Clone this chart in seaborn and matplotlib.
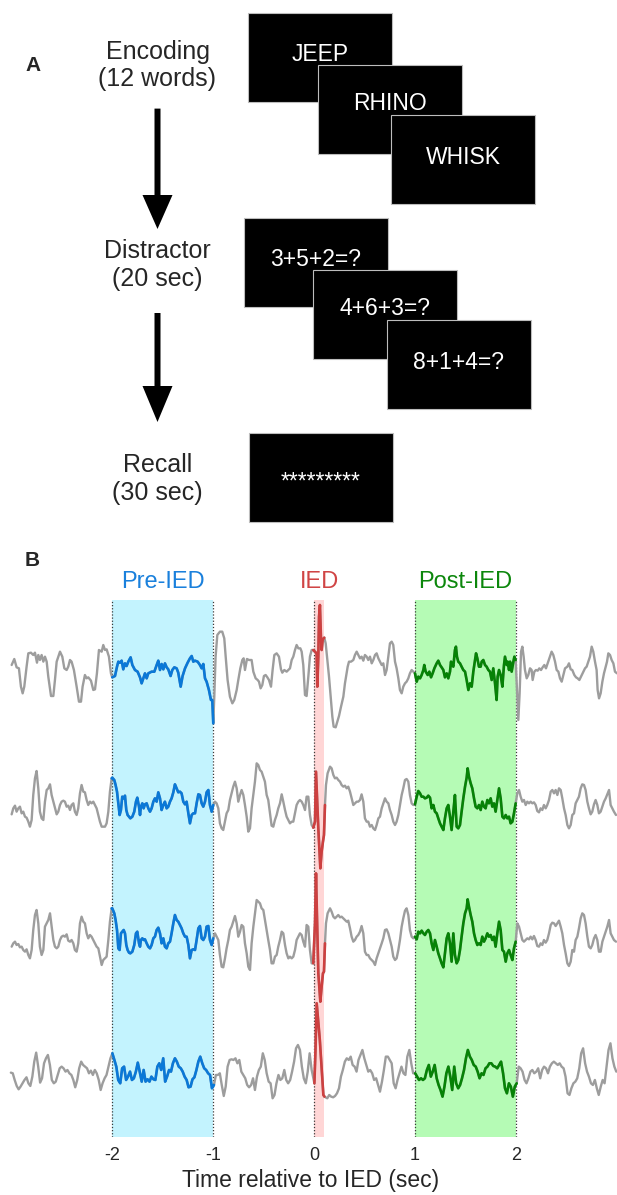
import numpy as np
import pandas as pd
import matplotlib
matplotlib.use("Agg")
import matplotlib.pyplot as plt
from matplotlib.patches import Rectangle, FancyArrow
import seaborn as sns

sns.set_style("white")
plt.rcParams["font.family"] = ["Liberation Sans", "DejaVu Sans"]

# ------------------------------------------------------------------ data
# Panel A: task schematic
STAGE_NAMES = ["Encoding", "Distractor", "Recall"]
STAGE_DURATIONS = ["(12 words)", "(20 sec)", "(30 sec)"]
ENCODING_WORDS = ["JEEP", "RHINO", "WHISK"]
DISTRACTOR_PROBLEMS = ["3+5+2=?", "4+6+3=?", "8+1+4=?"]
RECALL_PROMPT = ["*********"]

# Panel B: windows (seconds relative to IED)
WINDOW_NAMES = ["Pre-IED", "IED", "Post-IED"]
WINDOW_BOUNDS = [(-2.0, -1.0), (0.0, 0.1), (1.0, 2.0)]
TICK_VALUES = [-2, -1, 0, 1, 2]
TICK_LABELS = ["-2", "-1", "0", "1", "2"]
X_LABEL = "Time relative to IED (sec)"

# Example traces: time (ms relative to IED) and amplitude (a.u.)
T1_MS = [
    -2996, -2970, -2947, -2924, -2904, -2887, -2871, -2848, -2831, -2805,
    -2782, -2765, -2745, -2732, -2716, -2699, -2682, -2666, -2649, -2633,
    -2606, -2583, -2567, -2550, -2517, -2494, -2474, -2451, -2435, -2418,
    -2402, -2379, -2352, -2329, -2309, -2293, -2270, -2253, -2237, -2210,
    -2187, -2170, -2151, -2131, -2104, -2088, -2071, -2055, -2032, -2012,
    -1999, -1972, -1952, -1939, -1923, -1906, -1890, -1873, -1857, -1840,
    -1817, -1800, -1774, -1748, -1724, -1708, -1691, -1675, -1658, -1642,
    -1609, -1582, -1559, -1543, -1526, -1510, -1493, -1477, -1460, -1444,
    -1421, -1404, -1384, -1361, -1345, -1321, -1302, -1278, -1252, -1229,
    -1212, -1196, -1179, -1153, -1130, -1113, -1097, -1080, -1064, -1041,
    -1021, -1008, -998,
    -988, -975, -958, -932, -909, -889, -875, -856, -833, -809,
    -790, -766, -750, -730, -710, -697, -684, -664, -644, -618,
    -601, -578, -558, -545, -529, -512, -496, -479, -462, -446,
    -426, -410, -393, -370, -347, -327, -314, -294, -271, -254,
    -238, -221, -205, -188, -172, -155, -135, -122, -106, -89,
    -73, -56, -40, -23,
    -7, 10, 26, 33, 43, 50, 59, 69, 76, 86, 96, 102,
    116, 129, 149, 168, 182, 195, 215, 231, 248, 268,
    291, 307, 334, 347, 367, 390, 406, 423, 439, 456,
    472, 489, 505, 522, 538, 555, 572, 588, 605, 621,
    638, 654, 671, 687, 704, 720, 737, 753, 770, 786,
    803, 819, 836, 852, 869, 885, 902, 918, 935, 951,
    968, 984,
    1001, 1018, 1034, 1051, 1067, 1084, 1093, 1107, 1127, 1143,
    1160, 1176, 1193, 1216, 1232, 1249, 1265, 1282, 1298, 1315,
    1331, 1348, 1358, 1371, 1381, 1397, 1407, 1417, 1430, 1447,
    1463, 1480, 1497, 1513, 1530, 1546, 1563, 1579, 1596, 1606,
    1619, 1635, 1652, 1662, 1678, 1695, 1711, 1728, 1744, 1761,
    1777, 1794, 1810, 1820, 1834, 1850, 1867, 1883, 1893, 1910,
    1919, 1933, 1943, 1959, 1976, 1986, 1999,
    2012, 2025, 2038, 2052, 2065, 2078, 2091, 2108, 2124, 2141,
    2157, 2167, 2184, 2200, 2217, 2233, 2250, 2266, 2283, 2299,
    2316, 2339, 2355, 2372, 2389, 2405, 2422, 2438, 2455, 2471,
    2488, 2511, 2527, 2544, 2560, 2580, 2597, 2613, 2630, 2646,
    2663, 2686, 2702, 2719, 2735, 2752, 2768, 2785, 2801, 2811,
    2825, 2841, 2858, 2874, 2891, 2904, 2917, 2934, 2950, 2967,
    2983, 3003,
]
T1_AMP = [
    24, 42, 17, 14, -41, -61, -41, 19, 59, 61,
    54, 61, 31, 54, 39, 54, 34, 49, 34, -11,
    -69, -69, -21, 34, 64, 49, 14, 9, 19, 39,
    34, 9, -41, -86, -86, -41, -6, -16, -13, -23,
    -51, -49, -1, 69, 64, 84, 69, 71, 49, -1,
    -13, -9, 19, 34, 31, 37, 11, 29, 21, 34,
    47, 24, 9, 4, -13, -31, -16, -1, -16, -1,
    4, 4, 24, 37, 9, 27, 11, 29, 17, 11,
    -9, 9, 17, 14, 1, -41, -9, 14, 31, 44,
    51, 34, 37, 34, 24, 14, 27, -16, -26, -51,
    -81, -81, -151,
    -71, 49, 114, 124, 124, 104, 49, -21, -71, -91,
    -81, -51, -21, 14, 39, 44, 9, 42, 39, 39,
    4, -16, -21, -26, -46, -36, -9, -6, -13, -21,
    -41, 9, 54, 59, 49, 11, 1, 9, 4, 9,
    14, 39, 49, 69, 84, 74, 74, 64, 24, -66,
    -69, -11, 49, 69,
    69, 64, 59, -41, 49, 169, 204, 109, 69, 99, 104, 106,
    89, 49, -11, -81, -131, -161, -163, -146, -129, -101,
    -71, -31, 19, 34, 34, 39, 54, 64, 54, 44,
    49, 37, 54, 49, 39, 49, 29, 39, 54, 59,
    44, 34, 24, 29, -6, 9, 49, 89, 94, 84,
    34, 14, -16, -51, -61, -41, -31, -26, -16, -1,
    9, 4,
    -1, -26, -11, -16, -6, 9, 24, 4, -6, 4,
    -13, -1, 14, 29, 37, 24, 17, 9, -13, -1,
    -16, 4, 34, 24, 19, 69, 79, 49, 34, 29,
    19, 9, 4, -21, -51, -31, -41, 4, 39, 59,
    44, 19, 19, 34, 39, 24, 19, 9, 4, -21,
    14, -31, -81, -11, 9, -6, -41, 24, 49, 24,
    34, 9, 34, 4, 34, 49, 39,
    -51, -141, -61, 64, 79, 49, 9, -16, -6, 14,
    9, -21, 4, 9, 7, 14, 9, 17, 24, 14,
    29, 49, 64, 54, 34, 9, 4, -16, -26, -6,
    14, 19, 29, 11, 9, -6, -13, -16, -21, -11,
    -1, 14, 19, 34, 49, 79, 64, 34, 9, -51,
    -76, -61, -26, -1, 19, 34, 59, 54, 39, 29,
    4, -1,
]

T23_MS = [
    -2996, -2980, -2963, -2947, -2930, -2914, -2897, -2881, -2864, -2848,
    -2831, -2815, -2798, -2782, -2765, -2749, -2732, -2716, -2699, -2682,
    -2666, -2649, -2633, -2616, -2600, -2583, -2567, -2550, -2534, -2517,
    -2501, -2484, -2468, -2451, -2435, -2418, -2402, -2385, -2369, -2352,
    -2336, -2319, -2303, -2286, -2270, -2253, -2237, -2220, -2204, -2187,
    -2170, -2154, -2137, -2121, -2104, -2088, -2071, -2055, -2038, -2022,
    -2005,
    -1999, -1979, -1966, -1952, -1939, -1926, -1913, -1900, -1886, -1873,
    -1860, -1847, -1833, -1820, -1800, -1781, -1764, -1751, -1734, -1724,
    -1715, -1701, -1688, -1675, -1658, -1642, -1625, -1609, -1592, -1576,
    -1559, -1543, -1526, -1510, -1493, -1477, -1460, -1444, -1427, -1411,
    -1394, -1378, -1361, -1345, -1328, -1312, -1295, -1278, -1262, -1245,
    -1229, -1212, -1196, -1179, -1163, -1146, -1130, -1113, -1097, -1080,
    -1064, -1047, -1031, -1014, -998,
    -981, -965, -948, -932, -915, -899, -882, -866, -849, -833,
    -816, -800, -783, -766, -750, -733, -717, -700, -684, -667,
    -651, -634, -618, -601, -585, -568, -552, -535, -519, -502,
    -486, -469, -453, -436, -420, -403, -387, -370, -354, -337,
    -320, -304, -287, -271, -254, -238, -221, -205, -188, -172,
    -155, -139, -122, -106, -89, -73, -56, -40, -23,
    -7, 10, 20, 43, 63, 76, 89, 99,
    109, 119, 135, 159, 175, 192, 208, 225, 241, 258,
    274, 291, 307, 324, 340, 357, 373, 390, 406, 423,
    439, 456, 472, 489, 505, 522, 538, 555, 572, 588,
    605, 621, 638, 654, 671, 687, 704, 720, 737, 753,
    770, 786, 803, 819, 836, 852, 869, 885, 902, 918,
    935, 951, 968, 984, 1001,
    1018, 1034, 1051, 1067, 1084, 1100, 1117, 1133, 1150, 1166,
    1183, 1199, 1216, 1232, 1249, 1265, 1282, 1298, 1315, 1331,
    1348, 1364, 1381, 1397, 1414, 1430, 1447, 1463, 1480, 1497,
    1513, 1523, 1536, 1553, 1569, 1586, 1602, 1619, 1635, 1652,
    1668, 1685, 1701, 1718, 1734, 1751, 1767, 1784, 1800, 1817,
    1834, 1850, 1867, 1883, 1900, 1916, 1933, 1949, 1966, 1982,
    1999,
    2015, 2032, 2048, 2065, 2081, 2098, 2114, 2131, 2147, 2164,
    2180, 2197, 2213, 2230, 2246, 2263, 2279, 2296, 2312, 2329,
    2346, 2362, 2379, 2395, 2412, 2428, 2445, 2461, 2478, 2494,
    2511, 2527, 2544, 2560, 2577, 2593, 2610, 2626, 2643, 2659,
    2676, 2692, 2709, 2725, 2742, 2758, 2775, 2791, 2808, 2824,
    2841, 2858, 2874, 2891, 2907, 2924, 2940, 2957, 2973, 2993,
]
T2_AMP = [
    -19, -1, 7, -11, -1, 4, -16, -11, -26, -29,
    -41, -56, -36, 39, 89, 111, 59, -11, -31, -36,
    19, 54, 59, 71, 39, 19, -1, -19, -11, 9,
    19, 22, 19, 4, 7, -6, 9, 14, -11, -21,
    -1, 44, 69, 49, 47, 24, 9, 19, 14, 19,
    9, -1, -21, -41, -56, -56, -56, -46, -11, 49,
    89,
    91, 84, 69, 49, 14, -21, -6, 34, 29, 37,
    -6, -21, -26, -31, -26, -11, 19, 31, 4, -21,
    4, 14, -1, 11, 14, -1, -11, -1, 19, 29,
    19, 47, 29, -6, 9, 19, -1, 4, 19, 29,
    47, 71, 59, 47, 49, 44, 19, 11, 19, -16,
    -46, -21, -16, -16, 14, 41, 39, 14, 4, 19,
    47, 54, 9, -11, 9,
    19, 14, -1, -46, -61, -66, -41, -16, -6, 24,
    44, 64, 79, 59, 19, 39, 54, 39, 9, -26,
    -71, -61, -1, 39, 79, 134, 129, 114, 109, 94,
    79, 39, 24, -16, -53, -56, -36, -21, -1, 14,
    41, 19, -6, -26, -36, -46, -41, -41, -16, 9,
    19, 24, 19, 9, -6, 34, 34, -21, -51,
    -59, -41, 109, -61, -181, -131, -101, -81,
    9, 69, 104, 124, 119, 99, 89, 91, 84, 79,
    69, 64, 67, 59, 64, 49, 29, 9, 14, 19,
    19, 24, 41, 19, -31, -41, -41, -56, -51, -61,
    -66, -51, -31, -26, -1, 14, 29, 19, 14, -6,
    -21, -41, -51, -41, -21, 9, 39, 59, 84, 87,
    79, 39, 14, 9, 11,
    34, 51, 44, 34, 34, 29, 31, 37, 31, -1,
    9, -11, -16, -31, -46, -56, -66, -31, -1, 9,
    -26, -66, -11, 39, -56, -61, -51, -11, 29, 64,
    91, 119, 94, 74, 59, 29, 4, -1, 9, -6,
    19, 4, -1, 24, 14, 29, 4, 14, -11, 24,
    59, 29, -26, -31, -21, -31, -26, -46, -41, -16,
    14,
    44, 54, 34, 19, 24, 9, 19, 14, 19, 14,
    17, 9, -9, -13, -1, -6, 9, -1, 9, 24,
    49, 54, 44, 54, 39, 59, 54, 29, -1, -21,
    -51, -61, -51, -21, -16, 14, 24, 34, 59, 71,
    69, 54, 19, -1, -19, -11, 11, 24, 9, -16,
    -11, 4, 19, 29, 41, 54, 9, -1, -11, -21,
]
T3_AMP = [
    -11, -1, 4, -6, -3, -13, -11, -21, -26, -19,
    -36, -46, -21, 39, 84, 99, 59, -11, -36, -21,
    49, 59, 69, 89, 49, 9, -11, -16, -11, 9,
    19, 22, 19, 26, 7, 4, 9, -1, -21, -26,
    -1, 59, 79, 64, 59, 29, 14, 24, 19, 9,
    -1, -11, -16, -41, -66, -51, -46, -41, 9, 64,
    104,
    104, 89, 69, 39, -16, -21, 29, 34, 39, 29,
    -6, -21, -29, -31, -26, -6, 29, 34, -1, -11,
    9, 14, 9, 11, -1, -11, -16, -6, 14, 19,
    39, 46, 29, -1, 14, -11, -16, -1, 4, 29,
    59, 84, 69, 64, 54, 44, 29, 19, 19, -6,
    -46, -21, -19, -21, 9, 44, 51, 14, 9, 19,
    49, 51, 9, -6, 14,
    29, 19, 9, -36, -71, -73, -46, -16, 9, 39,
    49, 64, 81, 59, 19, 34, 54, 49, -1, -31,
    -71, -81, -1, 49, 89, 129, 124, 119, 104, 99,
    69, 39, 9, -21, -61, -61, -41, -36, -11, 9,
    34, 29, -6, -31, -46, -41, -46, -41, -21, 9,
    19, 29, 24, 4, -11, 54, 49, -21, -61,
    -61, 59, 209, -91, -176, -131, -91, -86,
    -1, 59, 89, 104, 94, 79, 74, 79, 84, 77,
    79, 74, 69, 64, 67, 44, 19, 4, 9, 19,
    24, 34, 51, 29, -26, -36, -36, -46, -51, -56,
    -66, -46, -31, -16, -1, 14, 39, 41, 29, 9,
    -11, -41, -51, -46, -21, 9, 49, 74, 97, 104,
    84, 39, 19, 14, 19,
    11, 34, 29, 37, 29, 24, 34, 39, 29, -1,
    -21, 9, -11, -31, -46, -61, -73, -31, 14, 29,
    -1, -56, 29, -36, -61, -51, -21, 19, 59, 89,
    104, 131, 109, 84, 64, 29, 9, -6, -1, -6,
    19, 4, 14, 29, 19, 24, 9, 19, -11, 29,
    64, 39, -21, -26, -56, -31, -21, -36, -51, -16,
    4,
    59, 49, 29, 9, 4, 9, 14, 11, 19, 11,
    21, 9, -9, -11, -1, -6, 9, 1, 9, 29,
    54, 61, 59, 51, 59, 67, 49, 29, -6, -31,
    -61, -69, -56, -21, -26, 9, 19, 44, 74, 89,
    84, 59, 19, -11, -16, -6, 14, 24, 9, -26,
    -26, 4, 19, 34, 49, 69, 29, 19, 9, 4,
]

T4_MS = [
    -3004, -2985, -2966, -2946, -2927, -2908, -2888, -2869, -2849, -2830,
    -2811, -2791, -2772, -2753, -2733, -2714, -2695, -2675, -2656, -2637,
    -2617, -2598, -2578, -2559, -2540, -2520, -2501, -2482, -2462, -2443,
    -2424, -2404, -2385, -2366, -2346, -2327, -2307, -2288, -2269, -2249,
    -2230, -2211, -2191, -2172, -2153, -2133, -2114, -2095, -2075, -2056,
    -2036, -2017,
    -1998, -1978, -1959, -1940, -1920, -1901, -1882, -1862, -1843, -1823,
    -1804, -1785, -1765, -1746, -1727, -1707, -1688, -1669, -1649, -1630,
    -1611, -1591, -1572, -1552, -1533, -1514, -1494, -1475, -1456, -1436,
    -1417, -1398, -1378, -1359, -1340, -1320, -1301, -1282, -1262, -1243,
    -1223, -1204, -1185, -1165, -1146, -1127, -1107, -1088, -1069, -1049,
    -1030, -1011, -991,
    -972, -952, -933, -914, -894, -875, -856, -836, -817, -798,
    -778, -759, -740, -720, -701, -681, -662, -643, -623, -604,
    -585, -565, -546, -527, -507, -488, -469, -449, -430, -410,
    -391, -372, -352, -333, -314, -294, -275, -256, -236, -217,
    -197, -178, -159, -139, -120, -101, -81, -62, -43, -23,
    4, 15, 27, 58, 93, 104,
    132, 151, 170, 190, 209, 228, 248, 267, 286, 306,
    325, 345, 364, 383, 403, 422, 441, 461, 480, 499,
    519, 538, 557, 577, 596, 616, 635, 654, 674, 693,
    712, 732, 751, 770, 790, 809, 828, 848, 867, 887,
    906, 925, 945, 964, 983,
    1003, 1022, 1041, 1061, 1080, 1099, 1119, 1138, 1158, 1177,
    1196, 1216, 1235, 1254, 1274, 1293, 1312, 1332, 1351, 1370,
    1390, 1409, 1429, 1448, 1467, 1487, 1506, 1525, 1545, 1564,
    1583, 1603, 1622, 1641, 1661, 1680, 1700, 1719, 1738, 1758,
    1777, 1796, 1816, 1835, 1854, 1874, 1893, 1912, 1932, 1951,
    1971, 1990, 2009,
    2029, 2048, 2067, 2087, 2106, 2125, 2145, 2164, 2183, 2203,
    2222, 2242, 2261, 2280, 2300, 2319, 2338, 2358, 2377, 2396,
    2416, 2435, 2454, 2474, 2493, 2513, 2532, 2551, 2571, 2590,
    2609, 2629, 2648, 2667, 2687, 2706, 2725, 2745, 2764, 2784,
    2803, 2822, 2842, 2861, 2880, 2900, 2919, 2938, 2958, 2977,
    2996,
]
T4_AMP = [
    2, 0, -20, -38, -48, -40, -30, -20, -12, -30,
    -38, -10, 35, 62, 20, -28, -15, 30, 45, 55,
    25, -20, -30, -25, -5, 15, 20, 15, 5, 10,
    0, -5, -20, -42, -20, 15, 35, 25, 20, 15,
    0, 8, -5, 10, 0, -20, -50, -30, -15, -5,
    20, 45,
    60, 40, 20, -20, -30, 15, 20, -20, -10, 5,
    -20, -15, 5, 32, 5, -25, 10, -25, -18, -25,
    -10, -18, -20, 20, 30, 10, 45, -25, -10, 10,
    5, 30, 45, 35, 20, 15, 5, -10, -20, -42,
    -40, -18, -12, 10, 35, 50, 30, 15, 10, 0,
    -5, -45, -35,
    -5, -5, 0, -35, -68, -40, 20, 40, 42, 40,
    45, 30, 40, 5, -5, -15, -35, -42, -35, -15,
    -50, -10, 10, 20, 60, 40, 0, -25, -30, -75,
    -65, -30, -5, -20, -15, 10, -20, -30, -20, 5,
    35, 75, 85, 70, 20, -15, -30, 5, 60, 10,
    -30, 70, 210, 100, -65, -70,
    -75, -65, -70, -72, -68, -60, -45, -10, 10, 35,
    45, 40, 50, 25, 20, 5, 40, 55, 70, 45,
    25, 5, 10, 0, -20, -15, -35, -55, -25, 10,
    50, 50, 40, 30, -30, -45, -20, 0, 20, 0,
    -5, 50, 70, 30, 0,
    0, -10, -20, -15, -20, -15, 10, 25, -10, 5,
    25, -15, -35, -50, -70, -40, 0, 20, -10, -50,
    20, -30, -45, -35, -15, 10, 45, 70, 50, 40,
    25, 20, 5, -15, 0, -5, 15, 20, 30, 30,
    22, 20, 15, 25, 35, 0, -45, -60, -30, -40,
    -70, -40, -30,
    20, 15, 5, -20, -30, -15, 5, 10, 0, 5,
    15, -15, 10, 20, 15, 0, 20, 30, 35, 30,
    25, 30, 20, 15, -10, -60, -65, -45, -30, -25,
    -15, 15, 60, 75, 30, 5, -10, -30, -35, -20,
    -45, -65, -40, -20, -30, 20, 70, 90, 45, 20,
    5,
]

TRACES = [(T1_MS, T1_AMP), (T23_MS, T2_AMP), (T23_MS, T3_AMP), (T4_MS, T4_AMP)]
for i, (tt, aa) in enumerate(TRACES):
    if len(tt) != len(aa):
        raise ValueError(f"trace {i+1}: {len(tt)} times vs {len(aa)} values")

# ------------------------------------------------------------------ style
GRAY = "#9d9d9d"
WIN_LINE = ["#0a78d7", "#cd4040", "#068206"]
WIN_TEXT = ["#1a80dc", "#d04545", "#0c870c"]
WIN_FILL = ["#c3f3fe", "#ffd6d6", "#b5fbb5"]
TOL = 0.011

FW, FH = 617, 1195
fig = plt.figure(figsize=(FW / 100, FH / 100), dpi=100)

# ------------------------------------------------------------------ panel A
ov = fig.add_axes([0, 0, 1, 1])
ov.set_xlim(0, FW)
ov.set_ylim(FH, 0)
ov.axis("off")

ov.text(33, 65, "A", fontsize=15, fontweight="bold", ha="center", va="center")
ov.text(32, 560, "B", fontsize=15, fontweight="bold", ha="center", va="center")

stage_x = 157.5
stage_baselines = [(59, 86), (258, 286), (472, 500)]
for name, dur, (b1, b2) in zip(STAGE_NAMES, STAGE_DURATIONS, stage_baselines):
    ov.text(stage_x, b1, name, fontsize=18, ha="center", va="baseline")
    ov.text(stage_x, b2, dur, fontsize=18, ha="center", va="baseline")

for y0, y1, hl in [(108.6, 229, 34), (313, 422, 36)]:
    ov.add_patch(FancyArrow(stage_x, y0, 0, y1 - y0, width=6, head_width=30,
                            head_length=hl, length_includes_head=True,
                            color="black", lw=0))

BOX_W, BOX_H = 144, 89
screen_groups = [
    (ENCODING_WORDS, [(248, 13), (318, 65), (391, 115)], [48, 45, 49]),
    (DISTRACTOR_PROBLEMS, [(244, 218), (313, 270), (387, 320)], [48, 45, 49]),
    (RECALL_PROMPT, [(249, 433)], [56]),
]
z = 2
for texts, corners, bases in screen_groups:
    for txt, (x0, y0), b in zip(texts, corners, bases):
        ov.add_patch(Rectangle((x0, y0), BOX_W, BOX_H, facecolor="black",
                               edgecolor="#bdbdbd", lw=0.8, zorder=z))
        ov.text(x0 + BOX_W / 2, y0 + b, txt, color="white", fontsize=16.5,
                ha="center", va="baseline", zorder=z + 1)
        z += 2

# ------------------------------------------------------------------ panel B
ax_top, ax_bot = 600, 1137
axB = fig.add_axes([5 / FW, 1 - ax_bot / FH, 612 / FW, (ax_bot - ax_top) / FH])
unit_per_px = 3.0
offsets = [-(c - ax_top) * unit_per_px for c in (673, 808, 943, 1073.3)]

for (lo, hi), fill in zip(WINDOW_BOUNDS, WIN_FILL):
    axB.axvspan(lo, hi, color=fill, lw=0, zorder=0)
for xv in [-2, -1, 0, 1, 2]:
    axB.axvline(xv, color="#3a3a3a", ls=(0, (1, 1.5)), lw=0.9, zorder=1)

for (tt, aa), off in zip(TRACES, offsets):
    df = pd.DataFrame({"t": np.asarray(tt) / 1000.0,
                       "v": np.asarray(aa, dtype=float) + off})
    sns.lineplot(data=df, x="t", y="v", ax=axB, color=GRAY, lw=1.7,
                 estimator=None, sort=False, zorder=2)
    for (lo, hi), col in zip(WINDOW_BOUNDS, WIN_LINE):
        sub = df[(df.t >= lo - TOL) & (df.t <= hi + TOL)]
        sns.lineplot(data=sub, x="t", y="v", ax=axB, color=col, lw=1.9,
                     estimator=None, sort=False, zorder=3)

label_y = 1 + 12 / (ax_bot - ax_top)
for name, (lo, hi), col in zip(WINDOW_NAMES, WINDOW_BOUNDS, WIN_TEXT):
    axB.text((lo + hi) / 2, label_y, name, color=col, fontsize=17,
             ha="center", va="baseline", transform=axB.get_xaxis_transform(),
             clip_on=False)

axB.set_xlim(-3.062, 3.003)
axB.set_ylim(-(ax_bot - ax_top) * unit_per_px, 0)
axB.set_xticks(TICK_VALUES)
axB.set_xticklabels(TICK_LABELS, fontsize=13)
axB.tick_params(axis="x", length=0, pad=7)
axB.set_yticks([])
axB.set_ylabel("")
axB.set_xlabel(X_LABEL, fontsize=16.5, labelpad=4)
for s in axB.spines.values():
    s.set_visible(False)
axB.set_facecolor("none")

fig.savefig("out.png", dpi=100)
